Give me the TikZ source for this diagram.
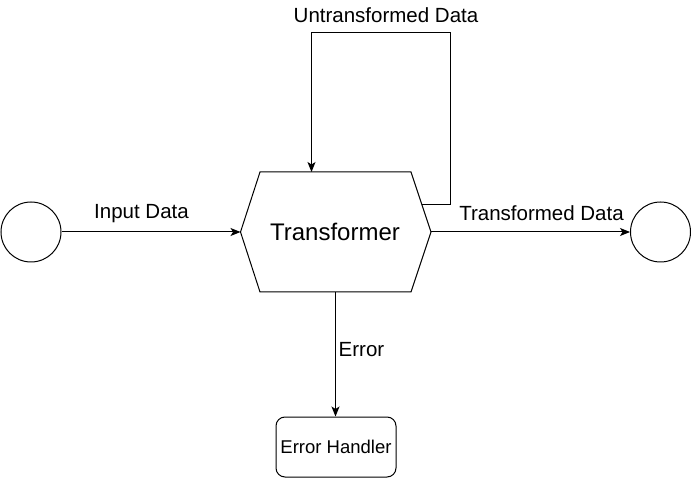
\documentclass[tikz,border=0pt]{standalone}
\usepackage{fontspec}
\setmainfont{Liberation Sans}
\usetikzlibrary{arrows.meta}
\begin{document}
\begin{tikzpicture}[x=1pt,y=-1pt,
  line/.style={line width=1pt,draw=black},
  arr/.style={line, -{Stealth[length=10pt,width=8pt,inset=2.5pt]}},
  term/.style={circle,line,minimum size=60pt,inner sep=0pt},
  lbl/.style={font=\fontsize{20.5}{24}\selectfont,inner sep=0pt},
  handler/.style={line,rounded corners=9pt,minimum width=120pt,minimum height=60pt,inner sep=0pt,font=\fontsize{18.5}{22}\selectfont}]
\useasboundingbox[fill=white] (0,0) rectangle (691,478);
% terminals
\node[term] (src) at (31,232) {};
\node[term] (dst) at (660.5,232) {};
% transformer hexagon
\coordinate (hL) at (240.5,232);
\coordinate (hTL) at (260,172);
\coordinate (hTR) at (411,172);
\coordinate (hR) at (431,232);
\coordinate (hBR) at (411,292);
\coordinate (hBL) at (260,292);
\draw[line,line join=miter] (hL) -- (hTL) -- (hTR) -- (hR) -- (hBR) -- (hBL) -- cycle;
\node[font=\fontsize{24}{28}\selectfont,inner sep=0pt] (tf) at (335,232) {Transformer};
\coordinate (loopS) at (421.7,204.5);
\coordinate (loopE) at (311.5,172);
\coordinate (errS) at (335.5,292);
% error handler
\node[handler] (eh) at (336,447) {Error Handler};
% connectors
\draw[arr] (src.east) -- (hL);
\draw[arr] (hR) -- (dst.west);
\draw[arr] (loopS) -- (450.5,204.5) -- (450.5,33) -- (311.5,33) -- (loopE);
\draw[arr] (errS) -- (eh.north -| errS);
% labels
\node[lbl] (l1) at (141.5,214) {Input Data};
\node[lbl] (l2) at (541.5,213) {Transformed Data};
\node[lbl] (l3) at (386,15) {Untransformed Data};
\node[lbl] (l4) at (361.5,350) {Error};
\end{tikzpicture}
\end{document}
